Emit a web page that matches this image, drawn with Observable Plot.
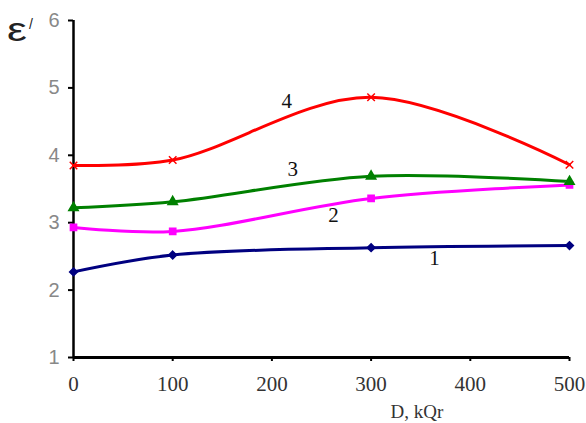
<!DOCTYPE html>
<html><head><meta charset="utf-8">
<script src="https://cdn.jsdelivr.net/npm/d3@7"></script>
<script src="https://cdn.jsdelivr.net/npm/@observablehq/plot@0.6"></script>
<style>body{margin:0;background:#fff}#c{position:relative;width:586px;height:423px}</style>
</head><body><div id="c"></div>
<script>
const dose = [0, 100, 300, 500];
const s1 = [2.27, 2.52, 2.63, 2.66];
const s2 = [2.93, 2.87, 3.36, 3.56];
const s3 = [3.22, 3.31, 3.69, 3.61];
const s4 = [3.85, 3.93, 4.86, 3.86];
const seriesNames = ["1", "2", "3", "4"];
const seriesColors = ["#000080", "#ff00ff", "#008000", "#ff0000"];
const seriesSymbols = ["diamond2", "square", "triangle", "times"];
const labelX = [364, 262, 221, 215];
const labelY = [2.47, 3.11, 3.80, 4.80];
const xTicks = [0, 100, 200, 300, 400, 500];
const yTicks = [1, 2, 3, 4, 5, 6];

const all = [s1, s2, s3, s4];
const rows = [];
all.forEach((s, i) => dose.forEach((d, j) => rows.push({series: seriesNames[i], x: d, y: s[j]})));
const labels = seriesNames.map((n, i) => ({t: n, x: labelX[i], y: labelY[i]}));

const chart = Plot.plot({
  width: 586, height: 423,
  marginLeft: 73, marginRight: 17, marginTop: 20, marginBottom: 66,
  x: {domain: [0, 500], ticks: xTicks},
  y: {domain: [1, 6], ticks: yTicks},
  color: {domain: seriesNames, range: seriesColors},
  symbol: {domain: seriesNames, range: seriesSymbols},
  marks: [
    Plot.axisX(xTicks, {tickSize: 4, tickPadding: 15, strokeWidth: 2, label: null, tickFormat: d3.format("d"),
      fontSize: 21, fontFamily: "Liberation Serif", fill: "#333"}),
    Plot.axisY(yTicks, {tickSize: 5, tickPadding: 9, strokeWidth: 2, label: null, tickFormat: d3.format("d"),
      fontSize: 20, fontFamily: "Liberation Sans", fill: "#888"}),
    Plot.ruleY([1], {stroke: "#000", strokeWidth: 3}),
    Plot.ruleX([0], {stroke: "#000", strokeWidth: 2.5}),
    Plot.line(rows, {x: "x", y: "y", z: "series", stroke: "series", strokeWidth: 3, curve: "catmull-rom"}),
    Plot.dot(rows, {x: "x", y: "y", symbol: "series", stroke: "series", fill: "series", r: 3.5, strokeWidth: 1.5}),
    Plot.text(labels, {x: "x", y: "y", text: "t", fontSize: 21, fontFamily: "Liberation Serif", fill: "#111"})
  ],
  style: {background: "#fff", overflow: "visible"}
});
document.getElementById("c").appendChild(chart);
const svg = d3.select(chart);
svg.append("text").attr("transform", "translate(17,41) scale(1.35,1)").attr("font-family", "Liberation Sans").attr("font-size", 33).attr("fill", "#222").text("ε");
svg.append("text").attr("x", 31).attr("y", 29).attr("font-family", "Liberation Sans").attr("font-size", 14).attr("fill", "#222").text("/");
svg.append("text").attr("x", 417).attr("y", 418).attr("text-anchor", "middle").attr("font-family", "Liberation Serif").attr("font-size", 19).attr("fill", "#333").text("D, kQr");
</script></body></html>
